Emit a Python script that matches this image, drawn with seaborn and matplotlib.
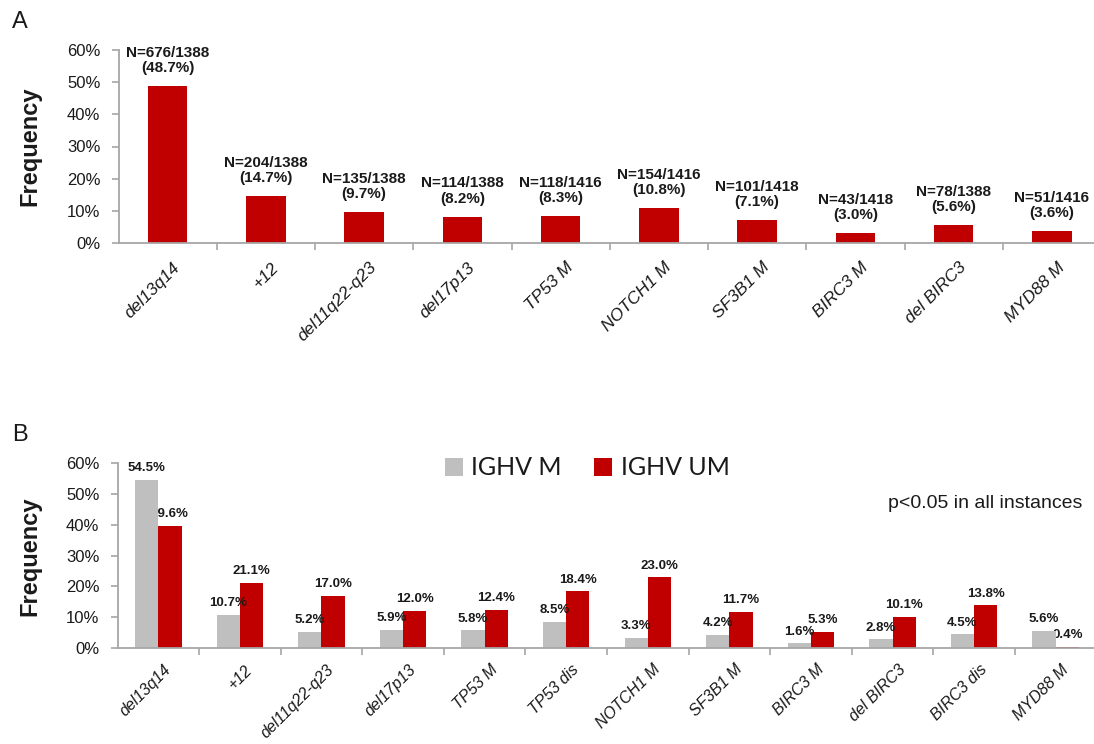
import matplotlib
matplotlib.use("Agg")
import matplotlib.pyplot as plt
import matplotlib.transforms as mtransforms
from matplotlib.ticker import FixedLocator
import seaborn as sns
import pandas as pd
import numpy as np

# Panel A: frequency of each lesion in the whole cohort
lesions_a = ["del13q14", "+12", "del11q22-q23", "del17p13", "TP53 M",
             "NOTCH1 M", "SF3B1 M", "BIRC3 M", "del BIRC3", "MYD88 M"]
freq_a = [48.7, 14.7, 9.7, 8.2, 8.3, 10.8, 7.1, 3.0, 5.6, 3.6]
counts_a = ["N=676/1388", "N=204/1388", "N=135/1388", "N=114/1388", "N=118/1416",
            "N=154/1416", "N=101/1418", "N=43/1418", "N=78/1388", "N=51/1416"]

# Panel B: frequency by IGHV mutational status
lesions_b = ["del13q14", "+12", "del11q22-q23", "del17p13", "TP53 M", "TP53 dis",
             "NOTCH1 M", "SF3B1 M", "BIRC3 M", "del BIRC3", "BIRC3 dis", "MYD88 M"]
groups_b = ["IGHV M", "IGHV UM"]
freq_m = [54.5, 10.7, 5.2, 5.9, 5.8, 8.5, 3.3, 4.2, 1.6, 2.8, 4.5, 5.6]
freq_um = [39.6, 21.1, 17.0, 12.0, 12.4, 18.4, 23.0, 11.7, 5.3, 10.1, 13.8, 0.4]

y_ticks = [0, 10, 20, 30, 40, 50, 60]

RED = "#C00000"
GREY = "#BFBFBF"
SPINE = "#A6A6A6"
TEXT = "#1a1a1a"

sns.set_style("white")
plt.rcParams["font.family"] = ["Liberation Sans", "DejaVu Sans"]
plt.rcParams["text.color"] = TEXT

W, H = 1094, 744
fig = plt.figure(figsize=(W / 100, H / 100), dpi=100)


def rect(left, right, bottom, top):
    return [left / W, 1 - bottom / H, (right - left) / W, (bottom - top) / H]


ax_a = fig.add_axes(rect(118.5, 1101, 243, 50))
ax_b = fig.add_axes(rect(117.5, 1096.5, 648, 463))

df_a = pd.DataFrame({"lesion": lesions_a, "freq": freq_a})
sns.barplot(data=df_a, x="lesion", y="freq", color=RED, saturation=1,
            width=0.4, linewidth=0, ax=ax_a)

df_b = pd.DataFrame({
    "lesion": lesions_b * 2,
    "freq": freq_m + freq_um,
    "group": [groups_b[0]] * len(lesions_b) + [groups_b[1]] * len(lesions_b),
})
sns.barplot(data=df_b, x="lesion", y="freq", hue="group", hue_order=groups_b,
            palette=[GREY, RED], saturation=1, width=0.57, linewidth=0, ax=ax_b)


def style_axis(ax, labels, xsize, xpad):
    n = len(labels)
    ax.set_xlim(-0.5, n - 0.5)
    ax.set_ylim(0, 60)
    ax.set_yticks(y_ticks)
    ax.set_yticklabels([f"{v}%" for v in y_ticks])
    ax.set_xlabel("")
    ax.set_ylabel("")
    for side in ("top", "right"):
        ax.spines[side].set_visible(False)
    for side in ("left", "bottom"):
        ax.spines[side].set_color(SPINE)
        ax.spines[side].set_linewidth(1.3)
    ax.tick_params(axis="y", direction="out", length=5, width=1.2, color=SPINE,
                   labelsize=12, labelcolor=TEXT, pad=8, left=True)
    ax.set_xticks(range(n))
    ax.set_xticklabels(labels, rotation=45, ha="right", rotation_mode="anchor",
                       fontstyle="italic", fontsize=xsize, color=TEXT)
    ax.tick_params(axis="x", which="major", length=0, pad=xpad, bottom=True)
    ax.xaxis.set_minor_locator(FixedLocator(np.arange(0.5, n - 0.5, 1.0)))
    ax.tick_params(axis="x", which="minor", direction="out", length=5, width=1.2,
                   color=SPINE, bottom=True)
    shift = mtransforms.ScaledTranslation(5 / 100, 0, fig.dpi_scale_trans)
    for lab in ax.get_xticklabels():
        lab.set_transform(lab.get_transform() + shift)


style_axis(ax_a, lesions_a, 12.5, 12)
style_axis(ax_b, lesions_b, 11.5, 10)

# Count and percentage above each bar of panel A
for patch, cnt, val in zip(ax_a.patches, counts_a, freq_a):
    ax_a.annotate(f"{cnt}\n({val:.1f}%)",
                  xy=(patch.get_x() + patch.get_width() / 2, patch.get_height()),
                  xytext=(0, 8), textcoords="offset points", ha="center",
                  va="bottom", fontsize=11, fontweight="bold", linespacing=1.1)

# Percentages above the grouped bars of panel B
for container, values, z in zip(ax_b.containers, (freq_m, freq_um), (3, 0.9)):
    for patch, val in zip(container, values):
        ax_b.annotate(f"{val:.1f}%",
                      xy=(patch.get_x() + patch.get_width() / 2, patch.get_height()),
                      xytext=(0, 4), textcoords="offset points", ha="center",
                      va="bottom", fontsize=9.5, fontweight="bold", zorder=z)

handles, labels = ax_b.get_legend_handles_labels()
ax_b.legend(handles, labels, loc="center", bbox_to_anchor=(0.48, 0.973), ncol=2,
            frameon=False, prop={"family": "Lato", "size": 18},
            handlelength=0.72, handleheight=0.72, handletextpad=0.35,
            columnspacing=1.3, borderaxespad=0)

ax_b.text((1082 - 117.5) / 979, (648 - 503) / 185, "p<0.05 in all instances",
          transform=ax_b.transAxes, ha="right", va="center", fontsize=14)

fig.text(30 / W, 1 - 146 / H, "Frequency", rotation=90, ha="center", va="center",
         fontsize=17, fontweight="bold")
fig.text(30 / W, 1 - 556 / H, "Frequency", rotation=90, ha="center", va="center",
         fontsize=17, fontweight="bold")
fig.text(12 / W, 1 - 11 / H, "A", ha="left", va="top", fontsize=17)
fig.text(12 / W, 1 - 424 / H, "B", ha="left", va="top", fontsize=17)

fig.savefig("out.png", dpi=100, facecolor="white")
